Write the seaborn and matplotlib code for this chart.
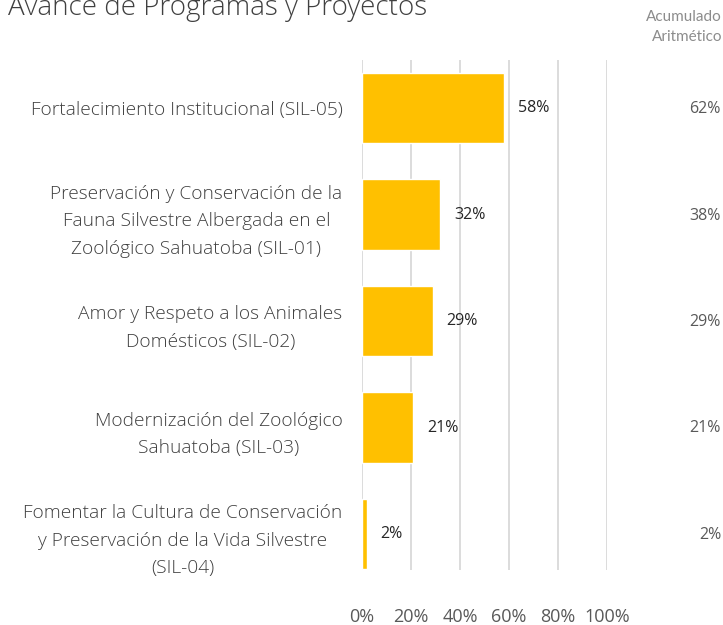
import matplotlib
matplotlib.use("Agg")
import matplotlib.pyplot as plt
import seaborn as sns
import pandas as pd

programas = [
    "Fortalecimiento Institucional (SIL-05)",
    "Preservación y Conservación de la\nFauna Silvestre Albergada en el\nZoológico Sahuatoba (SIL-01)",
    "Amor y Respeto a los Animales\nDomésticos (SIL-02)",
    "Modernización del Zoológico\nSahuatoba (SIL-03)",
    "Fomentar la Cultura de Conservación\ny Preservación de la Vida Silvestre\n(SIL-04)",
]
avance = [58, 32, 29, 21, 2]
acumulado = [62, 38, 29, 21, 2]
ticks_x = [0, 20, 40, 60, 80, 100]

df = pd.DataFrame({"programa": programas, "avance": avance})

sns.set_theme(style="white")
plt.rcParams["font.family"] = ["Open Sans", "DejaVu Sans"]

fig = plt.figure(figsize=(7.23, 6.25), dpi=100)
W, H = 723, 625
ax = fig.add_axes([362 / W, 1 - 570 / H, 245 / W, 510 / H])

sns.barplot(data=df, x="avance", y="programa", orient="h", color="#FFC000",
            saturation=1, width=0.66, ax=ax, zorder=3)

ax.set_xlim(0, 100)
ax.set_ylim(4.338, -0.451)
ax.set_xticks(ticks_x)
ax.set_xticklabels([f"{t}%" for t in ticks_x], fontsize=13, color="#595959")
ax.tick_params(axis="x", length=0, pad=27)
ax.tick_params(axis="y", length=0, pad=14)
for lab in ax.get_yticklabels():
    lab.set_fontsize(13.8)
    lab.set_color("#404040")
    lab.set_multialignment("center")
    lab.set_linespacing(1.68)
    lab.set_fontweight("light")
ax.set_xlabel("")
ax.set_ylabel("")
ax.grid(axis="x", color="#d9d9d9", linewidth=1.3, zorder=0)
ax.grid(axis="y", visible=False)
for s in ax.spines.values():
    s.set_visible(False)

for i, (v, a) in enumerate(zip(avance, acumulado)):
    ax.text(v + 5.5, i, f"{v}%", va="center", ha="left", fontsize=11.5, color="#262626")
    fig.text(721 / W, 1 - (109 + 106.5 * i) / H, f"{a}%", ha="right", va="center",
             fontsize=11.5, color="#595959")

fig.text(8 / W, 1 - 8 / H, "Avance de Programas y Proyectos", ha="left", va="center",
         fontsize=20, color="#404040", fontweight="light")
fig.text(722 / W, 1 - 17 / H, "Acumulado", ha="right", va="center",
         fontsize=11, color="#8c8c8c", family=["Lato", "DejaVu Sans"])
fig.text(722 / W, 1 - 37 / H, "Aritmético", ha="right", va="center",
         fontsize=11, color="#8c8c8c", family=["Lato", "DejaVu Sans"])

fig.savefig("out.png", dpi=100)
